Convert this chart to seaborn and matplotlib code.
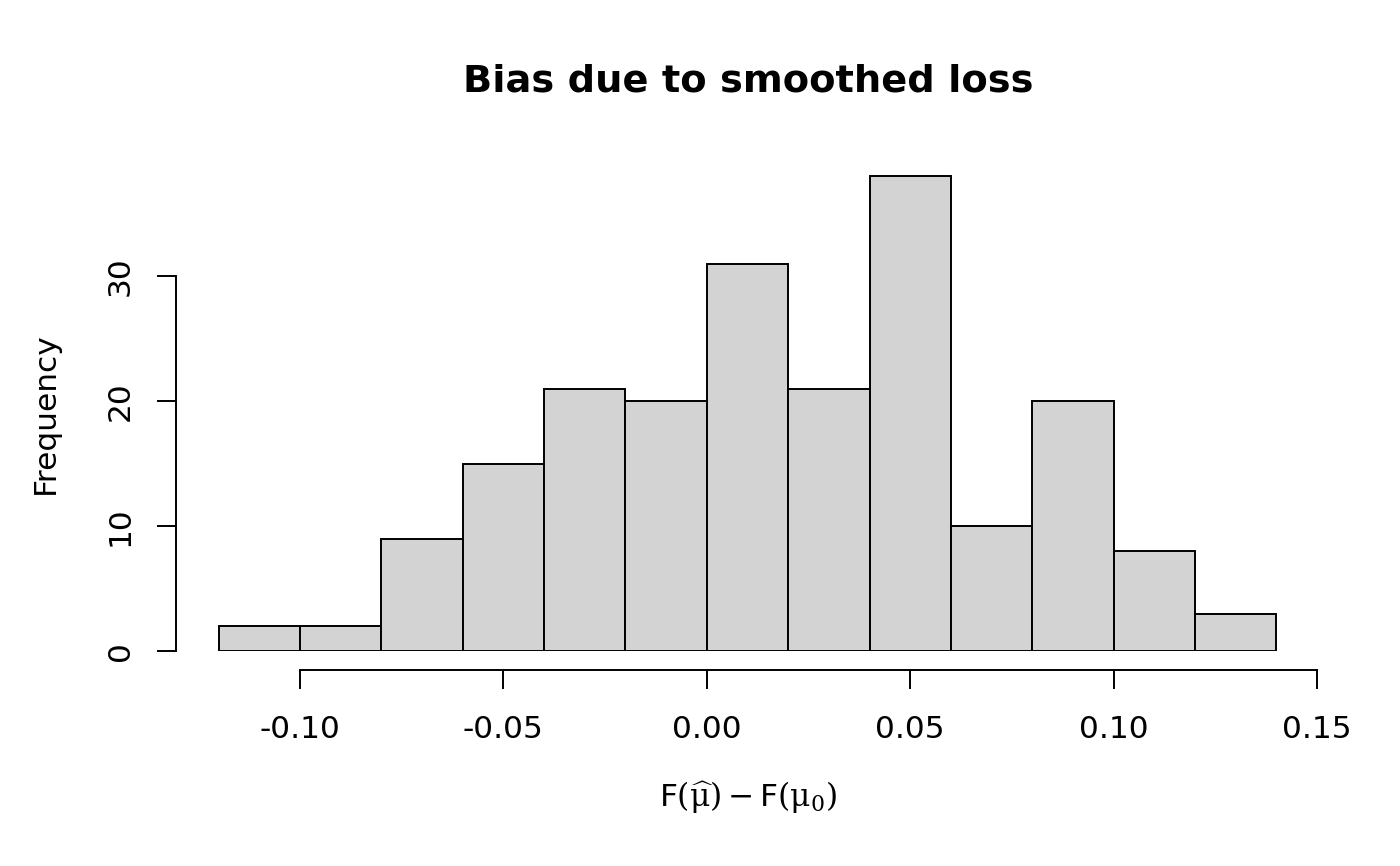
import numpy as np
import matplotlib.pyplot as plt
import seaborn as sns

sns.set_style("white")
plt.rcParams['font.family'] = ['DejaVu Sans']
plt.rcParams['mathtext.fontset'] = 'dejavuserif'
plt.rcParams['text.color'] = 'black'
plt.rcParams['axes.labelcolor'] = 'black'

# histogram bins and counts
bin_edges = [-0.12, -0.10, -0.08, -0.06, -0.04, -0.02, 0.00, 0.02, 0.04, 0.06, 0.08, 0.10, 0.12, 0.14]
counts = [2, 2, 9, 15, 21, 20, 31, 21, 38, 10, 20, 8, 3]
x_ticks = [-0.10, -0.05, 0.00, 0.05, 0.10, 0.15]
x_tick_labels = ['-0.10', '-0.05', '0.00', '0.05', '0.10', '0.15']
y_ticks = [0, 10, 20, 30]

centers = [(a + b) / 2 for a, b in zip(bin_edges[:-1], bin_edges[1:])]

W, H = 1400, 866
fig = plt.figure(figsize=(W / 100, H / 100), dpi=100)

# pixel mapping: x -0.10 -> 300, 0.15 -> 1317 ; y 0 -> 651, 30 -> 276
xpx = 1017 / 0.25
ypx = 12.5
xlim = (-0.125, 0.155)
ylim = (0, 39)
left = 300 - (-0.10 - xlim[0]) * xpx
width = (xlim[1] - xlim[0]) * xpx
bottom = 651
top = 651 - ylim[1] * ypx
ax = fig.add_axes([left / W, (H - bottom) / H, width / W, (bottom - top) / H])

sns.histplot(x=centers, weights=counts, bins=bin_edges, color='#d3d3d3',
             edgecolor='black', linewidth=1.4, alpha=1, ax=ax)

ax.set_xlim(*xlim)
ax.set_ylim(*ylim)
ax.spines['top'].set_visible(False)
ax.spines['right'].set_visible(False)
ax.spines['left'].set_position(('outward', 22 * 0.72))
ax.spines['bottom'].set_position(('outward', 19 * 0.72))
ax.spines['left'].set_bounds(0, 30)
ax.spines['bottom'].set_bounds(-0.10, 0.15)
for s in ['left', 'bottom']:
    ax.spines[s].set_linewidth(1.4)
    ax.spines[s].set_color('black')

ax.set_xticks(x_ticks)
ax.set_xticklabels(x_tick_labels)
ax.set_yticks(y_ticks)
ax.tick_params(axis='both', direction='out', length=13.7, width=1.4, colors='black',
               labelsize=22.5, bottom=True, left=True)
ax.tick_params(axis='x', pad=19)
ax.tick_params(axis='y', pad=16)
plt.setp(ax.get_yticklabels(), rotation=90, va='center')

ax.set_ylabel('Frequency', fontsize=22.5, va='center')
ax.yaxis.set_label_coords(45 / W, 1 - 413 / H, transform=fig.transFigure)
ax.set_xlabel(r'$\mathsf{F}(\widehat{\mathrm{\mu}})-\mathsf{F}(\mathrm{\mu}_0)$',
              fontsize=22.5, va='center')
ax.xaxis.set_label_coords(748 / W, 1 - 798 / H, transform=fig.transFigure)
fig.text(748 / W, 1 - 81 / H, 'Bias due to smoothed loss', fontsize=27.6,
         fontweight='bold', ha='center', va='center')

plt.savefig('out.png', dpi=100)
